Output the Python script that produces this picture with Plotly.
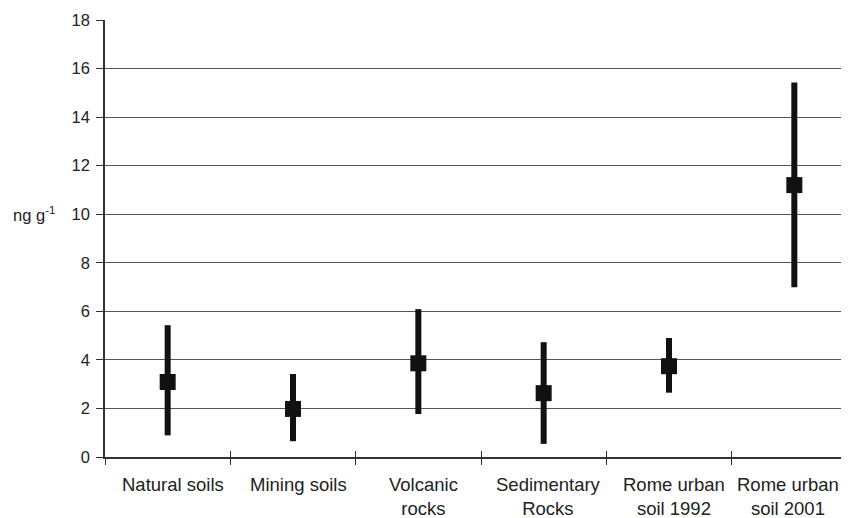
import plotly.graph_objects as go

categories = ["Natural soils", "Mining soils", "Volcanic rocks", "Sedimentary Rocks",
              "Rome urban soil 1992", "Rome urban soil 2001"]
tick_labels = ["Natural soils", "Mining soils", "Volcanic<br>rocks", "Sedimentary<br>Rocks",
               "Rome urban<br>soil 1992", "Rome urban<br>soil 2001"]
mean_vals = [3.09, 1.98, 3.86, 2.63, 3.74, 11.2]
high_vals = [5.43, 3.42, 6.09, 4.73, 4.90, 15.43]
low_vals = [0.89, 0.65, 1.77, 0.54, 2.65, 6.99]
y_ticks = [0, 2, 4, 6, 8, 10, 12, 14, 16, 18]

plus = [h - m for h, m in zip(high_vals, mean_vals)]
minus = [m - l for m, l in zip(mean_vals, low_vals)]

fig = go.Figure()
fig.add_trace(go.Scatter(
    x=categories, y=mean_vals, mode="markers",
    marker=dict(symbol="square", size=16, color="#111111"),
    error_y=dict(type="data", symmetric=False, array=plus, arrayminus=minus,
                 width=0, thickness=6, color="#111111"),
    showlegend=False,
))
# invisible helper trace so the overlay axis can draw the inner half of the crossing ticks
fig.add_trace(go.Scatter(
    x=categories, y=mean_vals, mode="markers", xaxis="x2",
    marker=dict(opacity=0), hoverinfo="skip", showlegend=False,
))

fnt = "Liberation Sans, Arial, sans-serif"

annotations = [dict(
    text="ng g<sup>-1</sup>", xref="paper", yref="y", x=-0.0638, y=10,
    xanchor="right", yanchor="middle", showarrow=False,
    font=dict(size=16.5, family=fnt, color="#222"),
)]
n = len(categories)
for i, (cat, lab) in enumerate(zip(categories, tick_labels)):
    annotations.append(dict(
        text=lab, xref="x", yref="paper", x=cat, y=0,
        xanchor="center", yanchor="top", showarrow=False,
        xshift=(5 if i < n - 1 else -6), yshift=-15,
        font=dict(size=18.5, family=fnt, color="#222"),
    ))

fig.update_layout(
    width=849, height=518,
    margin=dict(l=97, r=0, t=12, b=69),
    plot_bgcolor="white", paper_bgcolor="white",
    font=dict(family=fnt, color="#222222"),
    xaxis=dict(
        type="category", categoryarray=categories, range=[-0.5, 5.5],
        tickson="boundaries", showticklabels=False,
        ticks="outside", ticklen=6, tickcolor="#333", tickwidth=1,
        showline=True, linecolor="#333", linewidth=1.5,
        showgrid=False, fixedrange=True,
    ),
    xaxis2=dict(
        type="category", categoryarray=categories, range=[-0.5, 5.5],
        overlaying="x", anchor="y", side="bottom",
        tickson="boundaries", showticklabels=False,
        ticks="inside", ticklen=6, tickcolor="#333", tickwidth=1,
        showline=False, showgrid=False, fixedrange=True,
    ),
    yaxis=dict(
        range=[0, 18], tickvals=y_ticks, ticks="outside", ticklen=7,
        tickcolor="#333", showline=True, linecolor="#333", linewidth=1.5,
        showgrid=True, gridcolor="#555555", gridwidth=1, zeroline=False,
        tickfont=dict(size=16.5, family=fnt, color="#222"),
        ticklabelstandoff=3,
        fixedrange=True,
    ),
    annotations=annotations,
)

fig.write_html("out.html")
